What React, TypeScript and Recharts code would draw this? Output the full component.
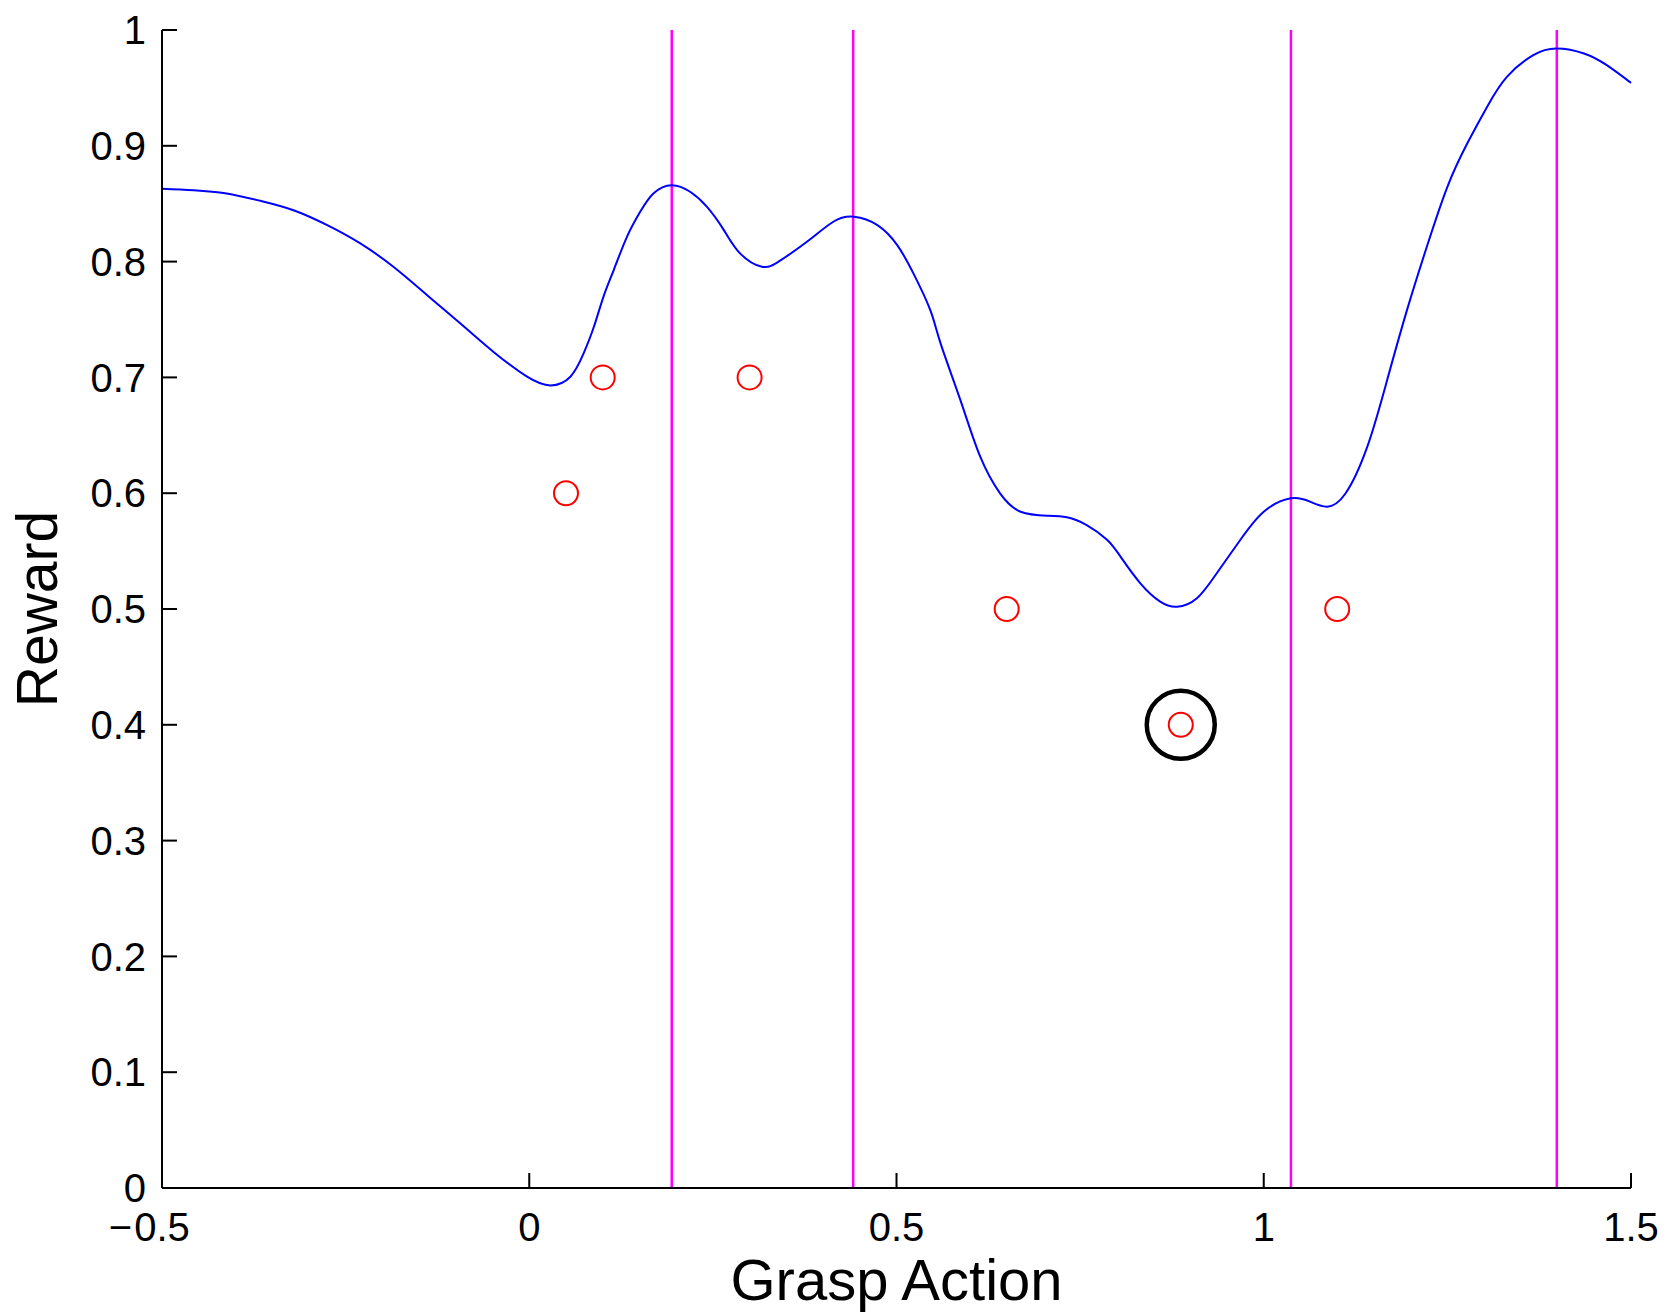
import {
  ComposedChart,
  Line,
  Scatter,
  XAxis,
  YAxis,
  ReferenceLine,
} from 'recharts'

// posterior mean of the reward over grasp actions
const CURVE_X = [
  -0.5, -0.457, -0.412, -0.366, -0.321, -0.275, -0.23, -0.185, -0.139, -0.094, -0.049, -0.003,
  0.029, 0.056, 0.074, 0.088, 0.101, 0.115, 0.133, 0.151, 0.169, 0.194, 0.219, 0.242, 0.265, 0.287,
  0.317, 0.342, 0.378, 0.414, 0.442, 0.474, 0.501, 0.523, 0.546, 0.56, 0.587, 0.614, 0.641, 0.669,
  0.705, 0.732, 0.759, 0.787, 0.805, 0.832, 0.859, 0.882, 0.909, 0.936, 0.968, 1.0, 1.037, 1.063,
  1.086, 1.111, 1.141, 1.168, 1.195, 1.222, 1.25, 1.277, 1.304, 1.331, 1.367, 1.399, 1.436, 1.467, 1.5,
]
const CURVE_Y = [
  0.863, 0.8617, 0.8589, 0.8525, 0.8444, 0.8315, 0.8157, 0.7955, 0.771, 0.7467, 0.7222, 0.7006,
  0.6931, 0.7006, 0.7207, 0.7437, 0.7696, 0.7927, 0.8214, 0.843, 0.8589, 0.866, 0.8603, 0.8473, 0.8272, 0.8071,
  0.7955, 0.801, 0.8171, 0.8344, 0.8387, 0.8315, 0.8142, 0.7898, 0.7581, 0.7294, 0.6804, 0.6315, 0.5999, 0.584,
  0.5806, 0.5792, 0.5725, 0.5596, 0.5452, 0.5222, 0.5064, 0.502, 0.5093, 0.5309, 0.5596, 0.584, 0.5956, 0.5927,
  0.5884, 0.5995, 0.6402, 0.6977, 0.7581, 0.8128, 0.8646, 0.902, 0.9336, 0.9595, 0.9783, 0.984, 0.9797, 0.9696, 0.9543,
]

// observed rewards
const SAMPLE_X = [0.05, 0.1, 0.3, 0.65, 0.887, 1.1]
const SAMPLE_Y = [0.6, 0.7, 0.7, 0.5, 0.4, 0.5]

// highlighted (next) sample
const PICK_X = [0.887]
const PICK_Y = [0.4]

// candidate maxima markers
const CANDIDATES = [0.194, 0.441, 1.037, 1.399]

const X_TICKS = [-0.5, 0, 0.5, 1, 1.5]
const Y_TICKS = [0, 0.1, 0.2, 0.3, 0.4, 0.5, 0.6, 0.7, 0.8, 0.9, 1]

const curve = CURVE_X.map((x, i) => ({ x, y: CURVE_Y[i] }))
const samples = SAMPLE_X.map((x, i) => ({ x, y: SAMPLE_Y[i] }))
const picked = PICK_X.map((x, i) => ({ x, y: PICK_Y[i] }))

const FONT = '"Liberation Sans", Arial, Helvetica, sans-serif'
const TICK_FONT = 40
const TICK_LEN = 15

// matlab style: ticks point inward, minus sign hangs left of the centred number
const XTick = (p: any) => {
  const v: number = p.payload.value
  const s = String(Math.abs(v))
  return (
    <g>
      <rect x={p.x - 1} y={p.y - 25 - TICK_LEN} width={2} height={TICK_LEN} fill="#000" />
      <text x={p.x} y={p.y} dy="0.71em" textAnchor="middle" fontSize={TICK_FONT} fontFamily={FONT} fill="#000">
        {s}
      </text>
      {v < 0 && (
        <text x={p.x - 30} y={p.y} dy="0.71em" textAnchor="end" fontSize={TICK_FONT} fontFamily={FONT} fill="#000">
          {'\u2212'}
        </text>
      )}
    </g>
  )
}

const YTick = (p: any) => (
  <g>
    <rect x={p.x + 16} y={p.y - 1} width={TICK_LEN} height={2} fill="#000" />
    <text x={p.x} y={p.y} dy="0.355em" textAnchor="end" fontSize={TICK_FONT} fontFamily={FONT} fill="#000">
      {String(p.payload.value)}
    </text>
  </g>
)

const RedCircle = (p: any) => (
  <circle cx={p.cx} cy={p.cy} r={12} fill="none" stroke="#ff0000" strokeWidth={2} />
)
const BlackCircle = (p: any) => (
  <circle cx={p.cx} cy={p.cy} r={34} fill="none" stroke="#000" strokeWidth={4.5} />
)

export default function App() {
  return (
    <div style={{ position: 'absolute', left: 0, top: 0, width: 1668, height: 1312, background: '#fff' }}>
      <ComposedChart width={1668} height={1312} margin={{ top: 30, right: 37, left: 0, bottom: 0 }}>
        <XAxis
          type="number"
          dataKey="x"
          domain={[-0.5, 1.5]}
          ticks={X_TICKS}
          interval={0}
          height={124}
          tickSize={0}
          tickLine={false}
          tickMargin={25}
          stroke="#000"
          strokeWidth={2}
          tick={<XTick />}
          label={{ value: 'Grasp Action', position: 'insideBottom', offset: 12, fill: '#000', fontSize: 58, fontFamily: FONT }}
        />
        <YAxis
          type="number"
          dataKey="y"
          domain={[0, 1]}
          ticks={Y_TICKS}
          interval={0}
          width={162}
          tickSize={0}
          tickLine={false}
          tickMargin={16}
          stroke="#000"
          strokeWidth={2}
          tick={<YTick />}
          label={{
            value: 'Reward',
            angle: -90,
            position: 'insideLeft',
            offset: 37,
            fill: '#000',
            fontSize: 57,
            fontFamily: FONT,
            style: { textAnchor: 'middle' },
          }}
        />
        {CANDIDATES.map((c) => (
          <ReferenceLine key={c} x={c} stroke="#ff00ff" strokeWidth={2.5} />
        ))}
        <Line
          data={curve}
          dataKey="y"
          type="natural"
          stroke="#0000ff"
          strokeWidth={2}
          dot={false}
          activeDot={false}
          isAnimationActive={false}
        />
        <Scatter data={samples} dataKey="y" shape={RedCircle} isAnimationActive={false} />
        <Scatter data={picked} dataKey="y" shape={BlackCircle} isAnimationActive={false} />
      </ComposedChart>
    </div>
  )
}
